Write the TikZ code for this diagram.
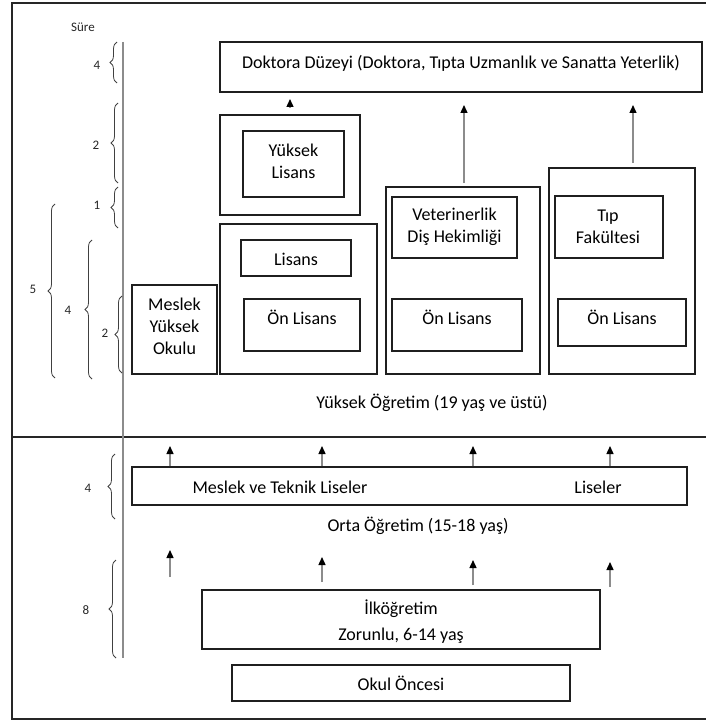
\documentclass[tikz,border=0pt]{standalone}
\usepackage{fontspec}
\setmainfont{Carlito}
\usetikzlibrary{arrows.meta,decorations.pathreplacing}
\begin{document}
\begin{tikzpicture}[x=1pt,y=-1pt,
  box/.style={draw=black!88,line width=1.5pt,inner sep=0pt,rectangle},
  txt/.style={font=\fontsize{18}{22}\selectfont,text=black,inner sep=0pt,align=center},
  small/.style={font=\fontsize{13}{15}\selectfont,text=black!85,inner sep=0pt},
  arr/.style={draw=black!45,line width=1.4pt,-{Triangle[length=8pt,width=7pt,color=black]}},
  brc/.style={decorate,decoration={brace,amplitude=7pt},draw=black!75,line width=0.8pt},
  rule/.style={draw=black!85,line width=1.5pt}]
\useasboundingbox (0,0) rectangle (705,722);
% frame (right side lies outside the picture) and divider
\coordinate (ftr) at (706,3);
\coordinate (ftl) at (12,3);
\coordinate (fbl) at (12,719);
\coordinate (fbr) at (706,719);
\draw[rule] (ftr) -- (ftl) -- (fbl) -- (fbr);
\coordinate (divl) at (12,437);
\coordinate (divr) at (706,437);
\draw[rule] (divl) -- (divr);
% time axis
\coordinate (axt) at (123,42);
\coordinate (axb) at (123,658);
\draw[draw=black!45,line width=2pt] (axt) -- (axb);
\node[small] (sure) at (83,27) {Süre};
% braces
\coordinate (b1a) at (117,83);  \coordinate (b1b) at (117,42);
\draw[brc] (b1a) -- (b1b);  \node[small] (l1) at (97,65) {4};
\coordinate (b2a) at (118,183); \coordinate (b2b) at (118,103);
\draw[brc] (b2a) -- (b2b);  \node[small] (l2) at (96,145) {2};
\coordinate (b3a) at (118,228); \coordinate (b3b) at (118,187);
\draw[brc] (b3a) -- (b3b);  \node[small] (l3) at (97,205) {1};
\coordinate (b4a) at (55,378);  \coordinate (b4b) at (55,204);
\draw[brc] (b4a) -- (b4b);  \node[small] (l4) at (33,289) {5};
\coordinate (b5a) at (92,379);  \coordinate (b5b) at (92,240);
\draw[brc] (b5a) -- (b5b);  \node[small] (l5) at (68,310) {4};
\coordinate (b6a) at (122,373); \coordinate (b6b) at (122,296);
\draw[brc] (b6a) -- (b6b);  \node[small] (l6) at (105,333) {2};
\coordinate (b7a) at (115,519); \coordinate (b7b) at (115,454);
\draw[brc] (b7a) -- (b7b);  \node[small] (l7) at (88,488) {4};
\coordinate (b8a) at (116,658); \coordinate (b8b) at (116,560);
\draw[brc] (b8a) -- (b8b);  \node[small] (l8) at (86,610) {8};
% higher education
\node[box,minimum width=482,minimum height=50] (dok) at (461,67) {};
\node[txt] (doktxt) at (461,63) {Doktora Düzeyi (Doktora, Tıpta Uzmanlık ve Sanatta Yeterlik)};
\node[box,minimum width=140,minimum height=100] (ylout) at (290,165) {};
\node[box,minimum width=101,minimum height=66] (ylin) at (293.5,164) {};
\node[txt] (yltxt) at (293.5,161) {Yüksek\\Lisans};
\node[box,minimum width=157,minimum height=150] (lout) at (298.5,299) {};
\node[box,minimum width=110,minimum height=36] (lis) at (296,258) {};
\node[txt] (listxt) at (296,259) {Lisans};
\node[box,minimum width=116,minimum height=52] (on1) at (302,325) {};
\node[txt] (on1txt) at (302,317) {Ön Lisans};
\node[box,minimum width=85,minimum height=89] (myo) at (174.5,329.5) {};
\node[txt] (myotxt) at (174.5,326) {Meslek\\Yüksek\\Okulu};
\node[box,minimum width=154,minimum height=187] (vout) at (463,280.5) {};
\node[box,minimum width=125,minimum height=61] (vin) at (454.5,227.5) {};
\node[txt] (vintxt) at (454.5,227) {Veterinerlik\\Diş Hekimliği};
\node[box,minimum width=130,minimum height=52] (on2) at (457,325) {};
\node[txt] (on2txt) at (457,317) {Ön Lisans};
\node[box,minimum width=146,minimum height=206] (tout) at (622,271) {};
\node[box,minimum width=108,minimum height=62] (tin) at (609,227) {};
\node[txt] (tintxt) at (608,227) {Tıp\\Fakültesi};
\node[box,minimum width=128,minimum height=47] (on3) at (622,322.5) {};
\node[txt] (on3txt) at (622,317) {Ön Lisans};
\node[txt] (yo) at (432,403) {Yüksek Öğretim (19 yaş ve üstü)};
% arrows to doctorate
\coordinate (a0s) at (290,108); \coordinate (a0t) at (290,99);
\draw[arr] (a0s) -- (a0t);
\coordinate (a1s) at (464,183); \coordinate (a1t) at (464,105);
\draw[arr] (a1s) -- (a1t);
\coordinate (a2s) at (633,163); \coordinate (a2t) at (633,105);
\draw[arr] (a2s) -- (a2t);
% secondary
\node[box,minimum width=555,minimum height=38] (lise) at (409.5,486) {};
\node[txt] (mtl) at (280,487) {Meslek ve Teknik Liseler};
\node[txt] (lsl) at (598,487) {Liseler};
\node[txt] (oo) at (418,526) {Orta Öğretim (15-18 yaş)};
\coordinate (r1a) at (170,446); \draw[arr] (lise.north -| r1a) -- (r1a);
\coordinate (r1b) at (322,446); \draw[arr] (lise.north -| r1b) -- (r1b);
\coordinate (r1c) at (473,446); \draw[arr] (lise.north -| r1c) -- (r1c);
\coordinate (r1d) at (610,446); \draw[arr] (lise.north -| r1d) -- (r1d);
% primary
\node[box,minimum width=398,minimum height=59] (ilk) at (401,619.5) {};
\node[txt] (ilk1) at (401,609) {İlköğretim};
\node[txt] (ilk2) at (401,636) {Zorunlu, 6-14 yaş};
\node[box,minimum width=338,minimum height=36] (okul) at (401,683) {};
\node[txt] (okultxt) at (401,683) {Okul Öncesi};
\coordinate (r2as) at (170,577); \coordinate (r2at) at (170,550);
\draw[arr] (r2as) -- (r2at);
\coordinate (r2bs) at (322,582); \coordinate (r2bt) at (322,557);
\draw[arr] (r2bs) -- (r2bt);
\coordinate (r2cs) at (473,585); \coordinate (r2ct) at (473,560);
\draw[arr] (r2cs) -- (r2ct);
\coordinate (r2ds) at (610,587); \coordinate (r2dt) at (610,562);
\draw[arr] (r2ds) -- (r2dt);
\end{tikzpicture}
\end{document}
